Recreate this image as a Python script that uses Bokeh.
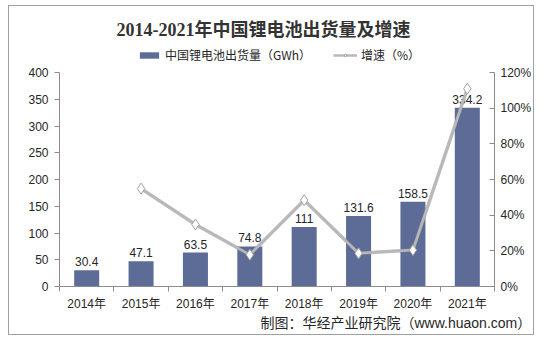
from bokeh.plotting import figure
from bokeh.models import (ColumnDataSource, Range1d, LinearAxis, FixedTicker,
                          Legend, LegendItem, Title, Label)
from bokeh.embed import file_html
from bokeh.resources import INLINE

years = ["2014年", "2015年", "2016年", "2017年", "2018年", "2019年", "2020年", "2021年"]
shipments = [30.4, 47.1, 63.5, 74.8, 111, 131.6, 158.5, 334.2]
growth = [None, 0.549, 0.348, 0.178, 0.484, 0.186, 0.204, 1.109]
left_ticks = [0, 50, 100, 150, 200, 250, 300, 350, 400]
right_ticks = [0, 0.2, 0.4, 0.6, 0.8, 1.0, 1.2]
right_labels = ["0%", "20%", "40%", "60%", "80%", "100%", "120%"]
left_max, right_max = 400, 1.2

xs = list(range(len(years)))
gx = [x for x, g in zip(xs, growth) if g is not None]
gy = [g for g in growth if g is not None]

# canvas inside an outer border (window 543x343, border box at 8..535, 5..336)
OX, OY = 9, 6
W, H = 526, 330
FL, FR = 59 - OX, 494 - OX          # frame left/right (canvas px)
AXIS_TOP, FB = 72 - OY, 286 - OY     # where 400 / 0 sit (canvas px)
FT = 0                               # frame reaches the canvas top (room for title/legend)
scale = (FB - FT) / (FB - AXIS_TOP)

p = figure(width=W, height=H, output_backend="svg", toolbar_location=None, title_location=None,
           x_range=Range1d(-0.5, len(years) - 0.5), y_range=Range1d(0, left_max * scale),
           min_border_left=FL, min_border_right=W - FR,
           min_border_top=FT, min_border_bottom=H - FB)
p.margin = (5, 8, 7, 8)
p.styles = {"border": "1px solid #a0a0a0"}
p.xgrid.visible = False
p.ygrid.visible = False
p.outline_line_color = None
p.background_fill_color = "white"
p.border_fill_color = "white"

FONT = "Liberation Sans, Noto Sans CJK SC"
CJK = "Noto Sans CJK SC"

src = ColumnDataSource(dict(x=xs, y=shipments, lab=[("%g" % v) for v in shipments]))
bars = p.vbar(x="x", top="y", width=0.46, source=src, fill_color="#5d6b97", line_color=None)
p.text(x="x", y="y", text="lab", source=src, text_align="center", text_baseline="bottom",
       y_offset=-4, text_font_size="12px", text_color="#262626", text_font={"value": FONT})

p.extra_y_ranges = {"pct": Range1d(0, right_max * scale)}
gsrc = ColumnDataSource(dict(x=gx, y=gy))
p.line(x="x", y="y", source=gsrc, y_range_name="pct", line_color="#9a9a9a", line_width=3.5, line_alpha=0.6)
ln = p.line(x="x", y="y", source=gsrc, y_range_name="pct", line_color="#b8b8b8", line_width=2.5)
mk = p.scatter(x="x", y="y", source=gsrc, y_range_name="pct", marker="diamond", size=11,
               fill_color="white", line_color="#a0a0a0", line_width=1)

# axes
xa = p.xaxis[0]
xa.ticker = FixedTicker(ticks=xs, minor_ticks=[x + 0.5 for x in range(-1, len(years))])
xa.major_label_overrides = {i: y for i, y in enumerate(years)}
xa.major_tick_out = 0
xa.major_tick_in = 0
xa.minor_tick_out = 5
xa.minor_tick_in = 0
xa.minor_tick_line_color = "#8c8c8c"
xa.axis_line_color = "#8c8c8c"
xa.major_label_text_font = FONT
xa.major_label_text_font_size = "12px"
xa.major_label_text_color = "#262626"
xa.major_label_standoff = 5

ya = p.yaxis[0]
ya.ticker = FixedTicker(ticks=left_ticks)
ya.bounds = (0, left_max)
ya.axis_line_color = "#8c8c8c"
ya.major_tick_line_color = "#8c8c8c"
ya.major_tick_out = 5
ya.major_tick_in = 0
ya.minor_tick_line_color = None
ya.major_label_text_font = FONT
ya.major_label_text_font_size = "12px"
ya.major_label_text_color = "#262626"
ya.major_label_standoff = 6

ra = LinearAxis(y_range_name="pct", ticker=FixedTicker(ticks=right_ticks), bounds=(0, right_max))
ra.major_label_overrides = {t: l for t, l in zip(right_ticks, right_labels)}
ra.axis_line_color = "#8c8c8c"
ra.major_tick_line_color = "#8c8c8c"
ra.major_tick_out = 0
ra.major_tick_in = 5
ra.minor_tick_line_color = None
ra.major_label_text_font = FONT
ra.major_label_text_font_size = "12px"
ra.major_label_text_color = "#262626"
ra.major_label_standoff = 6
p.add_layout(ra, "right")

# legend (inside the tall frame, above the plotting area)
legend = Legend(items=[LegendItem(label="中国锂电池出货量（GWh）", renderers=[bars]),
                       LegendItem(label="增速（%）", renderers=[ln, mk])],
                orientation="horizontal", location=(137 - 59, 286 - 63),
                label_text_font=CJK, label_text_font_size="12px", label_text_color="#262626",
                glyph_width=24, glyph_height=8, spacing=22, padding=0, margin=0,
                label_standoff=4, border_line_color=None, background_fill_alpha=0)
p.add_layout(legend, "center")

# main title
p.add_layout(Label(x=263 - 59, y=286 - 29, x_units="screen", y_units="screen",
                   text="2014-2021年中国锂电池出货量及增速", text_align="center",
                   text_baseline="middle", text_font="Liberation Serif, Noto Sans CJK SC",
                   text_font_style="bold", text_font_size="18px", text_color="#333333"))

# source note
p.add_layout(Title(text="制图：华经产业研究院（www.huaon.com）", align="left",
                   offset=260 - 59, standoff=-2, text_font=FONT, text_font_style="normal",
                   text_font_size="14px", text_color="#262626"), "below")

open("out.html", "w").write(file_html(p, INLINE))
